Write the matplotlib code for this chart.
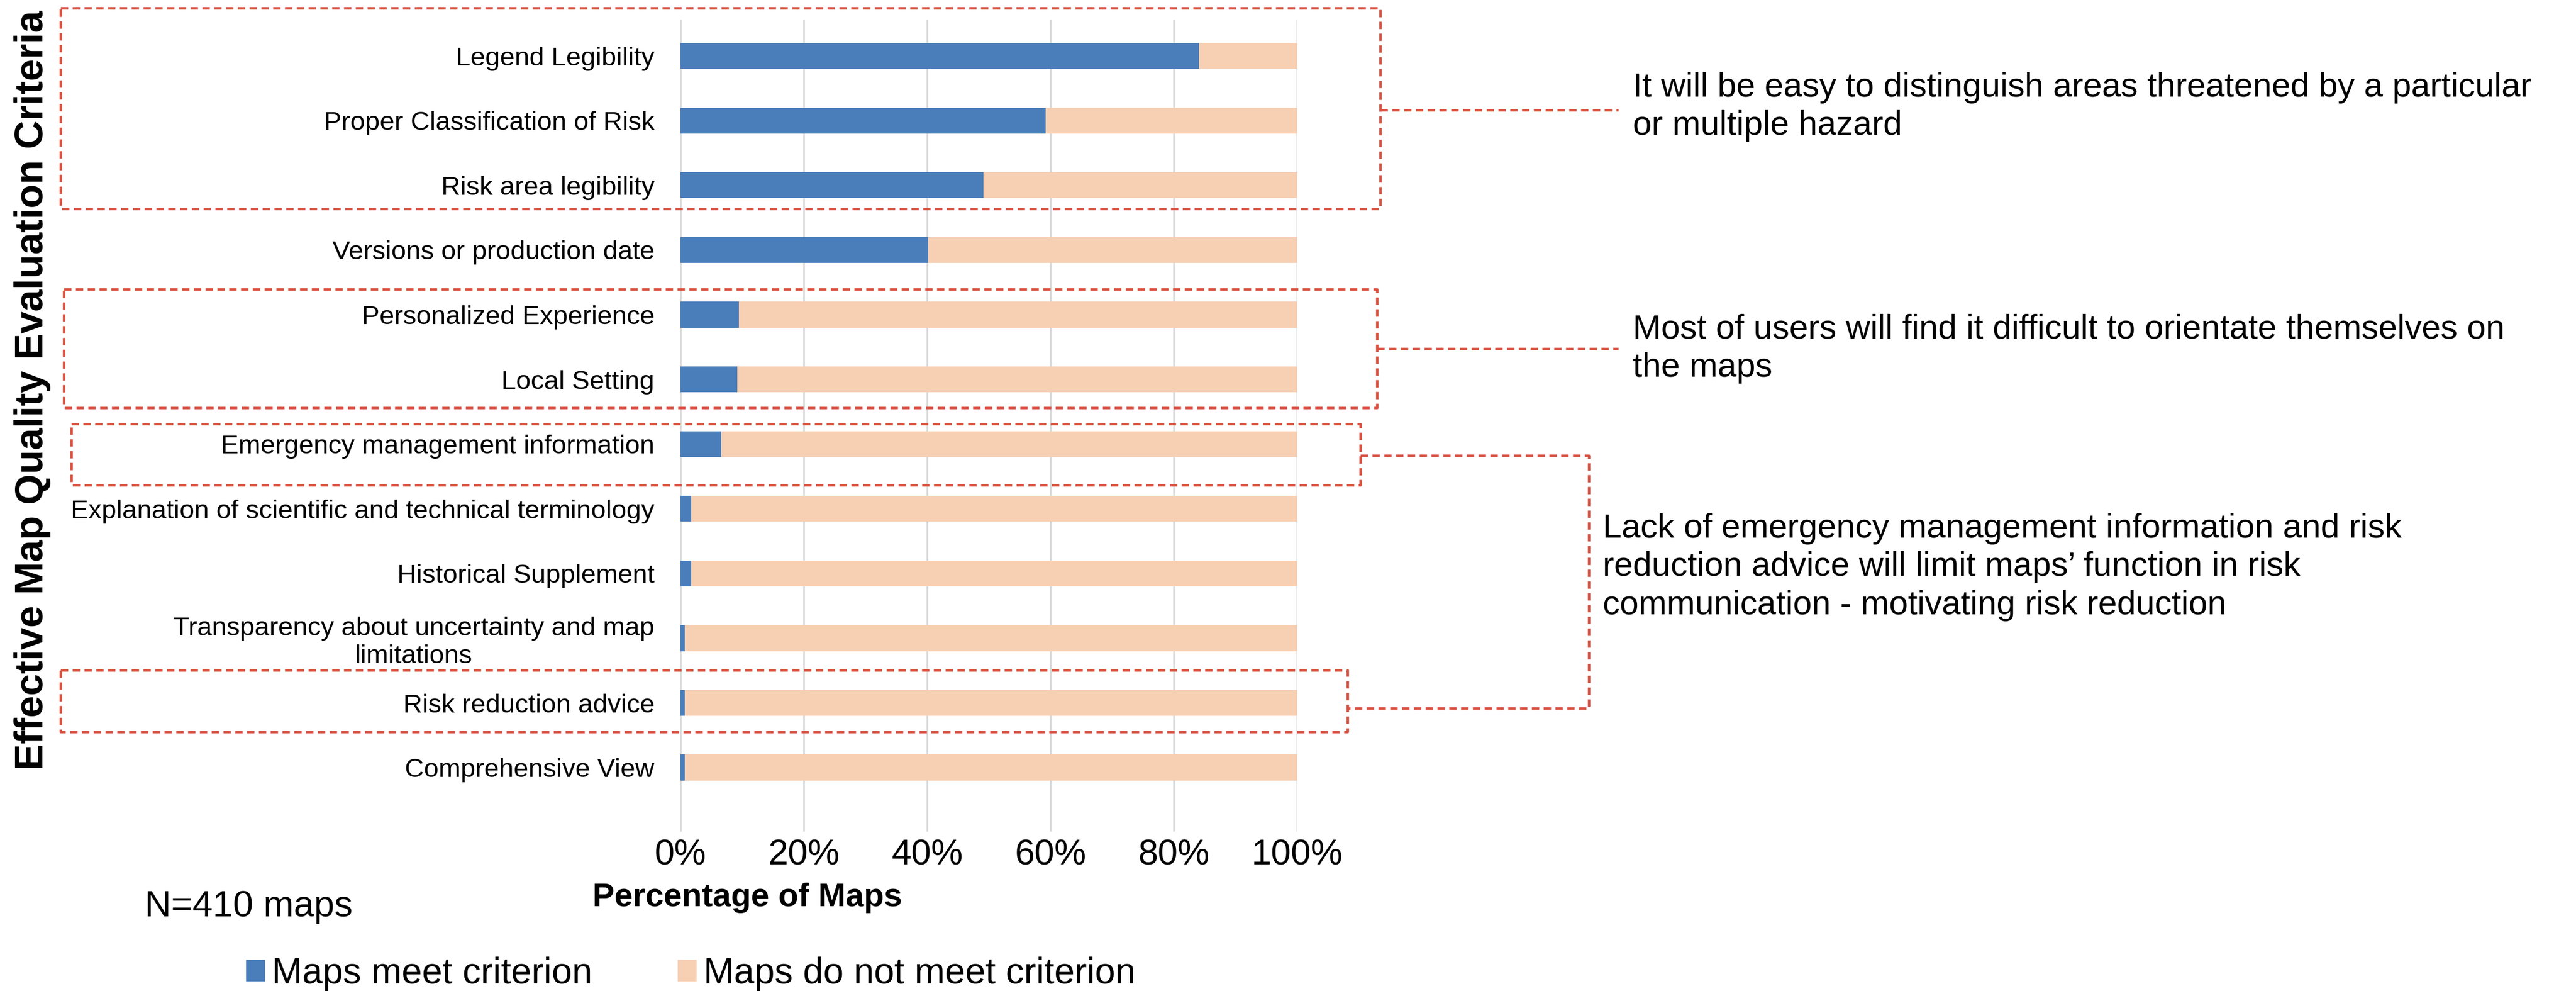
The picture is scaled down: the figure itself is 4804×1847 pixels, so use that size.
import numpy as np
import matplotlib
matplotlib.use('Agg')
import matplotlib.pyplot as plt
from matplotlib.patches import Patch
from matplotlib.lines import Line2D
import matplotlib.transforms as mtransforms

plt.rcParams['font.family'] = ['Liberation Sans', 'DejaVu Sans']

# criteria, top to bottom
criteria = ['Legend Legibility',
            'Proper Classification of Risk',
            'Risk area legibility',
            'Versions or production date',
            'Personalized Experience',
            'Local Setting',
            'Emergency management information',
            'Explanation of scientific and technical terminology',
            'Historical Supplement',
            'Transparency about uncertainty and map\nlimitations',
            'Risk reduction advice',
            'Comprehensive View']

# share of maps meeting each criterion (%)
meet = np.array([84.1, 59.2, 49.1, 40.2, 9.5, 9.2, 6.6, 1.7, 1.7, 0.7, 0.7, 0.7])
not_meet = 100 - meet

xticks = [0, 20, 40, 60, 80, 100]
xtick_labels = ['0%', '20%', '40%', '60%', '80%', '100%']

notes = ['It will be easy to distinguish areas threatened by a particular\nor multiple hazard',
         'Most of users will find it difficult to orientate themselves on\nthe maps',
         'Lack of emergency management information and risk\nreduction advice will limit maps\u2019 function in risk\ncommunication - motivating risk reduction']

blue = '#4a7ebb'
peach = '#f7cfb3'
red = '#d9503f'

W, H = 4804, 1847
fig = plt.figure(figsize=(W / 100, H / 100), dpi=100)
ax = fig.add_axes([1269 / W, 1 - 1550 / H, 1150 / W, 1513 / H])

y = np.arange(len(criteria))
ax.barh(y, meet, height=0.4, color=blue, zorder=3)
ax.barh(y, not_meet, left=meet, height=0.4, color=peach, zorder=3)

ax.set_xlim(0, 100)
ax.set_ylim(11.99, -0.556)
ax.set_xticks(xticks)
ax.set_xticklabels(xtick_labels, fontsize=48)
ax.set_yticks(y)
ax.set_yticklabels(criteria, fontsize=35.5, multialignment='center')
ax.tick_params(axis='y', length=0, pad=35)
ax.tick_params(axis='x', length=0, pad=10)
ax.grid(axis='x', color='#d9d9d9', linewidth=2.4, zorder=0)
for s in ax.spines.values():
    s.set_visible(False)

# axis titles
fig.text(61 / W, 1 - 727 / H, 'Effective Map Quality Evaluation Criteria',
         rotation=90, ha='center', va='center', fontsize=53, fontweight='bold')
fig.text(1394 / W, 1 - 1673 / H, 'Percentage of Maps',
         ha='center', va='center', fontsize=44, fontweight='bold')
fig.text(270 / W, 1 - 1690 / H, 'N=410 maps', ha='left', va='center', fontsize=49)

# legend
handles = [Patch(color=blue, label='Maps meet criterion'),
           Patch(color=peach, label='Maps do not meet criterion')]
fig.legend(handles=handles, loc='center left', bbox_to_anchor=(459 / W, 1 - 1815 / H),
           ncol=2, frameon=False, fontsize=49, borderpad=0, borderaxespad=0,
           handlelength=0.5, handleheight=0.5, handletextpad=0.2, columnspacing=2.35)

# dashed group boxes: x in figure pixels, y in data units
tr = mtransforms.blended_transform_factory(fig.transFigure, ax.transData)
dash = dict(color=red, linewidth=3.3, linestyle=(0, (3, 1.8)), transform=tr, clip_on=False)

boxes = [(113, 2574, -0.74, 2.36),
         (119, 2568, 3.61, 5.44),
         (133, 2537, 5.69, 6.63),
         (113, 2513, 9.49, 10.45)]
for x0, x1, y0, y1 in boxes:
    fig.add_artist(Line2D([x0 / W, x1 / W, x1 / W, x0 / W, x0 / W], [y0, y0, y1, y1, y0], **dash))

links = [([2574, 3018], [0.84, 0.84]),
         ([2568, 3018], [4.53, 4.53]),
         ([2537, 2963, 2963, 2513], [6.18, 6.18, 10.08, 10.08])]
for xs, ys in links:
    fig.add_artist(Line2D([v / W for v in xs], ys, **dash))

note_pos = [(3045, 199), (3045, 650), (2989, 1057)]
for txt, (nx, ny) in zip(notes, note_pos):
    fig.text(nx / W, 1 - ny / H, txt, ha='left', va='center', fontsize=45.5, linespacing=1.27)

fig.savefig('out.png', dpi=100, facecolor='white')
